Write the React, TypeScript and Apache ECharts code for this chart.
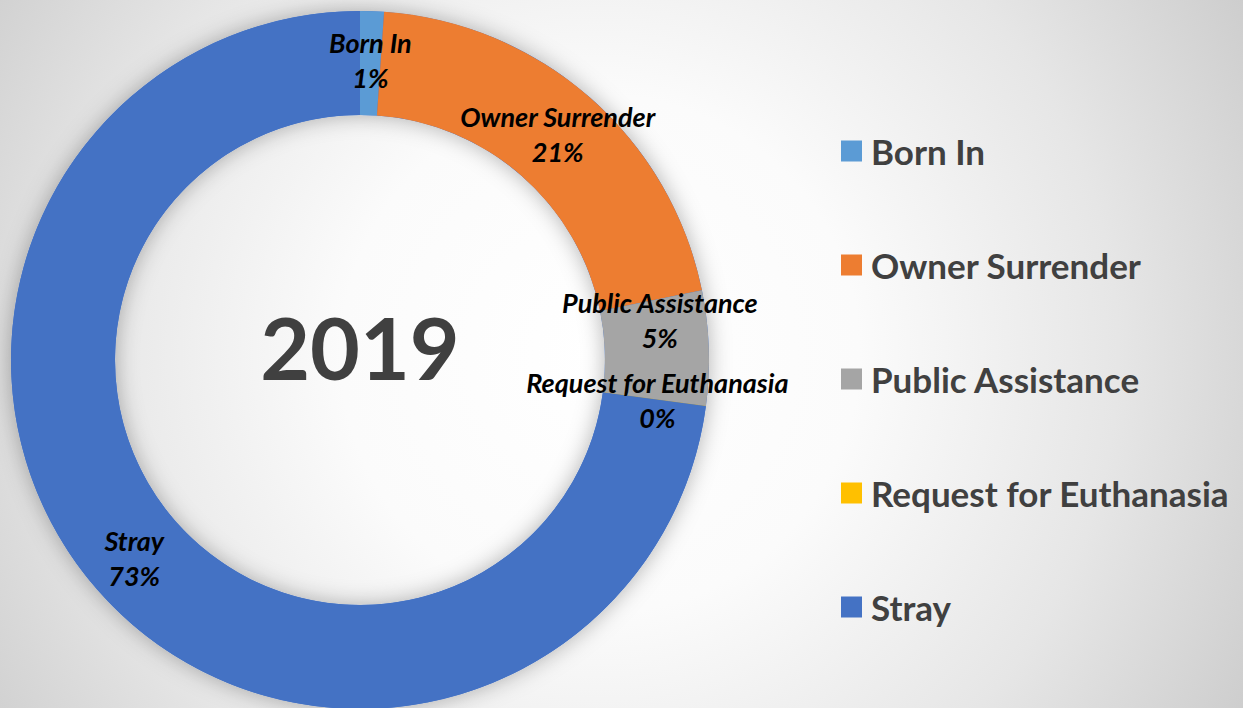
import React, { useEffect, useRef } from "react";
import * as echarts from "echarts";

const categories = ["Born In", "Owner Surrender", "Public Assistance", "Request for Euthanasia", "Stray"];
const values = [1.1, 20.7, 5.3, 0.02, 72.88];
const colors = ["#5B9BD5", "#ED7D31", "#A5A5A5", "#FFC000", "#4472C4"];
const centerTitle = "2019";

const FONT = "Lato, 'Open Sans', sans-serif";

export default function App() {
  const ref = useRef<HTMLDivElement>(null);
  useEffect(() => {
    if (!ref.current) return;
    const chart = echarts.init(ref.current, null, { renderer: "svg" });
    const data = categories.map((name, i) => ({
      name,
      value: values[i],
      itemStyle: { color: colors[i] },
    }));
    chart.setOption({
      animation: false,
      backgroundColor: "transparent",
      legend: {
        orient: "vertical",
        left: 836,
        top: 126,
        itemWidth: 21,
        itemHeight: 21,
        itemGap: 74,
        icon: "rect",
        data: categories,
        selectedMode: false,
        textStyle: {
          fontFamily: FONT,
          fontSize: 35,
          fontWeight: "bold",
          color: "#404040",
          lineHeight: 40,
          padding: [0, 0, 0, 4],
        },
      },
      graphic: [
        {
          type: "text",
          x: 360,
          y: 346,
          silent: true,
          style: {
            text: centerTitle,
            fontFamily: FONT,
            fontSize: 86,
            fontWeight: "bold",
            fill: "#404040",
            textAlign: "center",
            textVerticalAlign: "middle",
          },
        },
      ],
      series: [
        {
          type: "pie",
          silent: true,
          center: [360, 360],
          radius: [245, 349],
          z: 1,
          label: { show: false },
          labelLine: { show: false },
          itemStyle: {
            color: "#4472C4",
            shadowBlur: 22,
            shadowColor: "rgba(0,0,0,0.3)",
          },
          data: [{ value: 1, name: "_ring" }],
        },
        {
          type: "pie",
          z: 2,
          center: [360, 360],
          radius: [245, 349],
          startAngle: 90,
          clockwise: true,
          avoidLabelOverlap: false,
          itemStyle: { borderWidth: 0 },
          label: {
            show: true,
            position: "inside",
            formatter: (p: any) => `${p.name}\n${Math.round(p.percent)}%`,
            fontFamily: FONT,
            fontSize: 27,
            fontWeight: "bold",
            fontStyle: "italic",
            color: "#000000",
            lineHeight: 35,
            align: "center",
          },
          labelLine: { show: false },
          labelLayout: (params: any) => (params.dataIndex === 2 ? { dy: -30 } : {}),
          data,
        },
      ],
    });
    return () => chart.dispose();
  }, []);
  return (
    <div
      style={{
        position: "absolute",
        left: 0,
        top: 0,
        width: 1243,
        height: 708,
        overflow: "hidden",
        background:
          "radial-gradient(circle 740px at 600px 354px, #ffffff 0%, #fbfbfb 35%, #e6e6e6 70%, #cdcdcd 100%)",
      }}
    >
      <div ref={ref} style={{ width: 1243, height: 708 }} />
    </div>
  );
}
